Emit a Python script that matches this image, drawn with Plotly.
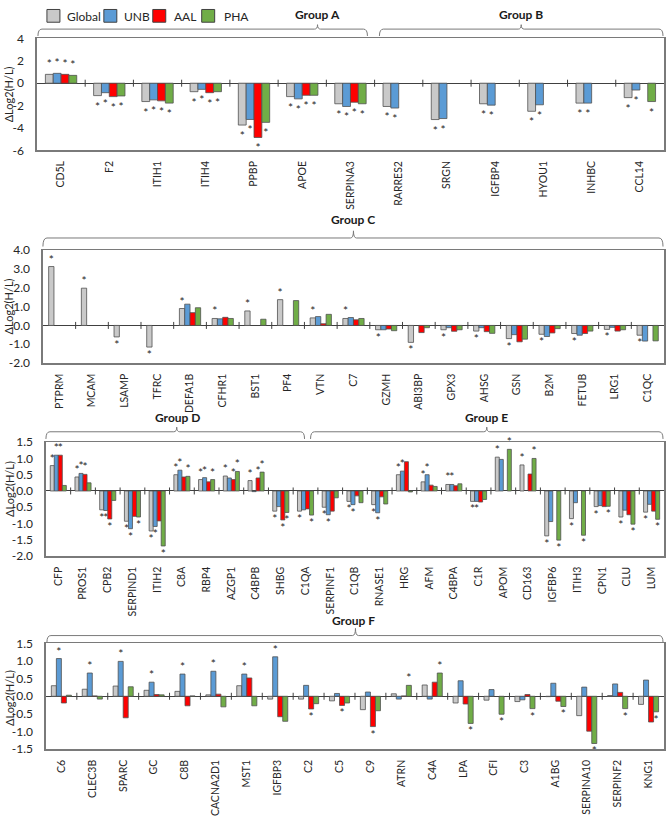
import plotly.graph_objects as go

W, H = 666, 817
FONT = "Lato"

series_names = ["Global", "UNB", "AAL", "PHA"]
series_colors = ["#C9C9C9", "#5B9BD5", "#FF0000", "#70AD47"]

# ---------------- Panel 1 : Group A / Group B ----------------
cats1 = ["CD5L", "F2", "ITIH1", "ITIH4", "PPBP", "APOE", "SERPINA3", "RARRES2",
         "SRGN", "IGFBP4", "HYOU1", "INHBC", "CCL14"]
global1 = [0.79, -1.11, -1.64, -0.76, -3.74, -1.20, -1.84, -2.08, -3.25, -1.84, -2.51, -1.78, -1.29]
unb1 = [0.88, -0.85, -1.49, -0.55, -3.24, -1.40, -2.08, -2.22, -3.16, -1.96, -1.93, -1.78, -0.61]
aal1 = [0.79, -1.20, -1.58, -0.85, -4.85, -1.08, -1.70, None, None, None, None, None, None]
pha1 = [0.70, -1.14, -1.78, -0.76, -3.50, -1.08, -1.84, None, None, None, None, None, -1.64]
sig_global1 = [1] * 13
sig_unb1 = [1] * 13
sig_aal1 = [1, 1, 1, 1, 1, 1, 1, 0, 0, 0, 0, 0, 0]
sig_pha1 = [1, 1, 1, 1, 1, 1, 1, 0, 0, 0, 0, 0, 1]
yticks1 = [-6, -4, -2, 0, 2, 4]
ytext1 = ["-6", "-4", "-2", "0", "2", "4"]

# ---------------- Panel 2 : Group C ----------------
cats2 = ["PTPRM", "MCAM", "LSAMP", "TFRC", "DEFA1B", "CFHR1", "BST1", "PF4", "VTN", "C7",
         "GZMH", "ABI3BP", "GPX3", "AHSG", "GSN", "B2M", "FETUB", "LRG1", "C1QC"]
global2 = [3.13, 1.98, -0.61, -1.15, 0.90, 0.37, 0.77, 1.37, 0.40, 0.37,
           -0.23, -0.90, -0.23, -0.30, -0.70, -0.47, -0.43, -0.21, -0.52]
unb2 = [None, None, None, None, 1.13, 0.35, None, None, 0.47, 0.42,
        -0.23, None, -0.12, -0.12, -0.49, -0.59, -0.52, -0.10, -0.83]
aal2 = [None, None, None, None, 0.68, 0.43, None, None, 0.09, 0.30,
        -0.19, -0.38, -0.31, -0.33, -0.87, -0.40, -0.43, -0.30, None]
pha2 = [None, None, None, None, 0.94, 0.37, 0.33, 1.32, 0.59, 0.37,
        -0.28, -0.12, -0.23, -0.42, -0.73, -0.17, -0.30, -0.23, -0.82]
sig_global2 = [1] * 19
sig_unb2 = [0] * 19
sig_aal2 = [0] * 19
sig_pha2 = [0] * 19
yticks2 = [-2, -1, 0, 1, 2, 3, 4]
ytext2 = ["-2.0", "-1.0", "0.0", "1.0", "2.0", "3.0", "4.0"]

# ---------------- Panel 3 : Group D / Group E ----------------
cats3 = ["CFP", "PROS1", "CPB2", "SERPIND1", "ITIH2", "C8A", "RBP4", "AZGP1", "C4BPB", "SHBG",
         "C1QA", "SERPINF1", "C1QB", "RNASE1", "HRG", "AFM", "C4BPA", "C1R", "APOM", "CD163",
         "IGFBP6", "ITIH3", "CPN1", "CLU", "LUM"]
global3 = [0.78, 0.43, -0.58, -0.93, -1.23, 0.50, 0.35, 0.46, 0.32, -0.62,
           -0.62, -0.50, -0.32, -0.42, 0.50, 0.28, 0.20, -0.32, 1.04, 0.80,
           -1.38, -0.85, -0.48, -0.80, -0.65]
unb3 = [1.10, 0.54, -0.60, -1.16, -1.09, 0.64, 0.41, 0.40, -0.02, -0.48,
        -0.58, -0.73, -0.42, -0.67, 0.61, 0.50, 0.20, -0.32, 0.97, None,
        -0.94, -0.36, -0.45, -0.59, -0.41]
aal3 = [1.10, 0.51, -0.86, -0.78, -0.92, 0.43, 0.28, 0.35, 0.40, -0.89,
        -0.55, -0.62, -0.15, -0.18, 0.90, 0.18, 0.16, -0.34, None, 0.52,
        None, None, -0.48, -0.73, -0.62]
pha3 = [0.17, 0.25, -0.29, -0.80, -1.69, 0.45, 0.35, 0.60, 0.58, -0.66,
        -0.74, -0.21, -0.36, -0.40, -0.03, 0.14, 0.22, -0.26, 1.28, 1.00,
        -1.51, -1.36, -0.47, -1.02, -0.87]
sig_global3 = [1] * 25
sig_unb3 = [1, 1, 1, 1, 1, 1, 1, 0, 0, 0, 0, 1, 1, 1, 1, 1, 1, 1, 0, 0, 0, 0, 0, 0, 0]
sig_aal3 = [1, 1, 1, 0, 0, 0, 0, 1, 1, 1, 0, 0, 0, 0, 0, 0, 0, 0, 0, 0, 0, 0, 0, 0, 0]
sig_pha3 = [0, 0, 0, 1, 1, 1, 1, 1, 1, 1, 1, 0, 0, 0, 0, 0, 0, 0, 1, 1, 1, 1, 1, 1, 1]
yticks3 = [-2, -1.5, -1, -0.5, 0, 0.5, 1, 1.5]
ytext3 = ["-2.0", "-1.5", "-1.0", "-0.5", "0.0", "0.5", "1.0", "1.5"]

# ---------------- Panel 4 : Group F ----------------
cats4 = ["C6", "CLEC3B", "SPARC", "GC", "C8B", "CACNA2D1", "MST1", "IGFBP3", "C2", "C5",
         "C9", "ATRN", "C4A", "LPA", "CFI", "C3", "A1BG", "SERPINA10", "SERPINF2", "KNG1"]
global4 = [0.30, 0.20, 0.29, 0.17, 0.14, 0.04, 0.30, -0.08, -0.08, -0.13,
           -0.38, 0.07, 0.32, -0.19, -0.11, -0.15, -0.01, -0.55, 0.02, -0.23]
unb4 = [1.07, 0.66, 0.99, 0.40, 0.63, 0.71, 0.63, 1.12, 0.31, 0.08,
        0.12, -0.08, -0.08, 0.44, 0.19, -0.10, 0.37, 0.26, 0.35, 0.46]
aal4 = [-0.19, 0.01, -0.61, 0.05, -0.27, 0.06, 0.52, -0.58, -0.36, -0.26,
        -0.86, 0.01, 0.40, -0.22, None, 0.05, -0.14, -0.99, 0.11, -0.73]
pha4 = [0.03, -0.08, 0.27, 0.04, 0.01, -0.30, -0.27, -0.71, -0.21, -0.19,
        -0.41, 0.31, 0.66, -0.77, -0.51, -0.35, -0.29, -1.34, -0.35, -0.44]
sig_global4 = [0] * 20
sig_unb4 = [1, 1, 1, 1, 1, 1, 1, 1, 0, 0, 0, 0, 0, 0, 0, 0, 0, 0, 0, 0]
sig_aal4 = [0, 0, 0, 0, 0, 0, 0, 0, 1, 1, 1, 0, 0, 0, 0, 0, 0, 0, 0, 0]
sig_pha4 = [0, 0, 0, 0, 0, 0, 0, 0, 0, 0, 0, 1, 1, 1, 1, 1, 1, 1, 1, 1]
yticks4 = [-1.5, -1, -0.5, 0, 0.5, 1, 1.5]
ytext4 = ["-1.5", "-1.0", "-0.5", "0.0", "0.5", "1.0", "1.5"]

group_labels = ["Group A", "Group B", "Group C", "Group D", "Group E", "Group F"]
y_title = "ΔLog2(H/L)"

# ---------------- layout geometry (pixels) ----------------
def px(x):
    return x / W

def py(y):
    return 1 - y / H

panels = [
    dict(cats=cats1, vals=[global1, unb1, aal1, pha1],
         sig=[sig_global1, sig_unb1, sig_aal1, sig_pha1],
         rng=[-6, 4], tv=yticks1, tt=ytext1, box=(37, 665, 31, 145), ytitle_xy=(8, 88)),
    dict(cats=cats2, vals=[global2, unb2, aal2, pha2],
         sig=[sig_global2, sig_unb2, sig_aal2, sig_pha2],
         rng=[-2, 4], tv=yticks2, tt=ytext2, box=(43, 665, 246.7, 361.7), ytitle_xy=(8, 304)),
    dict(cats=cats3, vals=[global3, unb3, aal3, pha3],
         sig=[sig_global3, sig_unb3, sig_aal3, sig_pha3],
         rng=[-2, 1.5], tv=yticks3, tt=ytext3, box=(46, 665, 442.3, 558.3), ytitle_xy=(9, 490)),
    dict(cats=cats4, vals=[global4, unb4, aal4, pha4],
         sig=[sig_global4, sig_unb4, sig_aal4, sig_pha4],
         rng=[-1.5, 1.5], tv=yticks4, tt=ytext4, box=(46, 665, 647.3, 755), ytitle_xy=(9, 703)),
]

fig = go.Figure()
layout = dict(
    width=W, height=H,
    margin=dict(l=0, r=0, t=0, b=0),
    paper_bgcolor="white", plot_bgcolor="white",
    barmode="group", bargap=0.35, bargroupgap=0,
    showlegend=False,
    font=dict(family=FONT, color="#262626"),
)
shapes = []
annotations = []

for i, p in enumerate(panels):
    n = i + 1
    xa = "x" if n == 1 else f"x{n}"
    ya = "y" if n == 1 else f"y{n}"
    for s in range(4):
        fig.add_trace(go.Bar(
            x=p["cats"], y=p["vals"][s], name=series_names[s],
            xaxis=xa, yaxis=ya, offsetgroup=str(s),
            marker=dict(color=series_colors[s], line=dict(color="#505050", width=0.8)),
            text=["*" if g else "" for g in p["sig"][s]],
            textposition="outside", constraintext="none", cliponaxis=False,
            textfont=dict(family=FONT, size=12, color="#262626"),
            showlegend=False,
        ))
    x0, x1, y0, y1 = p["box"]
    layout["xaxis" if n == 1 else f"xaxis{n}"] = dict(
        domain=[px(x0), px(x1)], anchor=ya, type="category",
        showline=True, mirror=True, linecolor="#7a7a7a", linewidth=1.5,
        ticks="", tickangle=-90, tickfont=dict(family=FONT, size=10.5, color="#262626"),
        ticklabelstandoff=5, showgrid=False, fixedrange=True,
    )
    layout["yaxis" if n == 1 else f"yaxis{n}"] = dict(
        domain=[py(y1), py(y0)], anchor=xa, range=p["rng"],
        tickvals=p["tv"], ticktext=p["tt"], showgrid=False,
        zeroline=True, zerolinecolor="#404040", zerolinewidth=1,
        showline=True, mirror=True, linecolor="#7a7a7a", linewidth=1.5,
        ticks="", ticklabelstandoff=9, tickfont=dict(family=FONT, size=12, color="#262626"),
        fixedrange=True,
    )
    # category separator ticks crossing the zero line
    for k in range(len(p["cats"]) - 1):
        shapes.append(dict(type="line", xref=xa, yref=ya, x0=k + 0.5, x1=k + 0.5,
                           ysizemode="pixel", yanchor=0, y0=-3.5, y1=3.5,
                           line=dict(color="#404040", width=1), layer="above"))
    tx, ty = p["ytitle_xy"]
    annotations.append(dict(text=y_title, x=px(tx), y=py(ty), xref="paper", yref="paper",
                            showarrow=False, textangle=-90, xanchor="center", yanchor="middle",
                            font=dict(family=FONT, size=11, color="#262626")))

# ---------------- braces + group labels ----------------
def brace(xl, xr, xm, yline, yend, ynotch, r=4, rn=3):
    pts = (f"M {px(xl)},{py(yend)} Q {px(xl)},{py(yline)} {px(xl + r)},{py(yline)} "
           f"L {px(xm - rn)},{py(yline)} Q {px(xm)},{py(yline)} {px(xm)},{py(ynotch)} "
           f"Q {px(xm)},{py(yline)} {px(xm + rn)},{py(yline)} "
           f"L {px(xr - r)},{py(yline)} Q {px(xr)},{py(yline)} {px(xr)},{py(yend)}")
    return dict(type="path", xref="paper", yref="paper", path=pts,
                line=dict(color="#7a7a7a", width=1))

braces = [
    (38, 368, 318, 21.5, 28.5, 17),
    (380, 664, 522, 21.5, 28.5, 17),
    (43, 664, 354, 234.3, 243, 227),
    (46, 305, 177, 431.7, 439, 427),
    (311, 664, 487.5, 431.7, 439, 427),
    (47, 664, 356, 639.3, 646, 632),
]
label_pos = [(318, 7), (522, 7), (354, 215), (178, 417), (487.5, 417), (354, 623.5)]
for b in braces:
    shapes.append(brace(*b))
for lab, (lx, ly) in zip(group_labels, label_pos):
    annotations.append(dict(text=f"<b>{lab}</b>", x=px(lx), y=py(ly), xref="paper", yref="paper",
                            showarrow=False, xanchor="center", yanchor="middle",
                            font=dict(family=FONT, size=12, color="#1a1a1a")))

# ---------------- legend (manual) ----------------
leg_box_x = [47, 104, 153, 202]
leg_text_x = [65, 122, 172, 222]
for s in range(4):
    bx = leg_box_x[s]
    shapes.append(dict(type="rect", xref="paper", yref="paper",
                       x0=px(bx), x1=px(bx + 13), y0=py(14.5), y1=py(1.5),
                       fillcolor=series_colors[s], line=dict(color="#404040", width=1)))
    annotations.append(dict(text=series_names[s], x=px(leg_text_x[s]), y=py(8.5),
                            xref="paper", yref="paper", showarrow=False,
                            xanchor="left", yanchor="middle",
                            font=dict(family=FONT, size=12, color="#262626")))

layout["shapes"] = shapes
layout["annotations"] = annotations
fig.update_layout(**layout)
fig.write_html(
    "out.html",
    config={"displayModeBar": False, "staticPlot": True},
    post_script="document.body.style.margin='0';document.body.style.padding='0';"
                "document.body.style.overflow='hidden';"
                "document.documentElement.style.overflow='hidden';",
)
